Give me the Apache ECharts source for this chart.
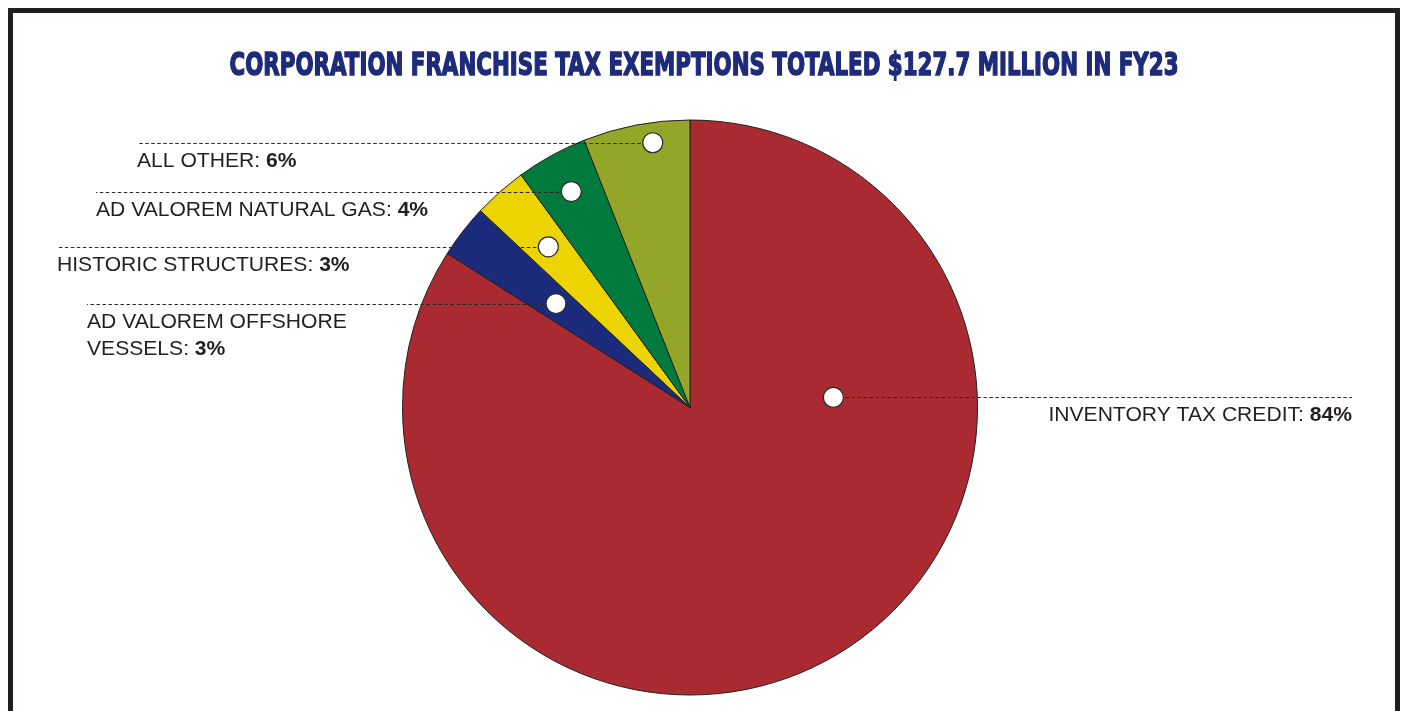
<!DOCTYPE html>
<html>
<head>
<meta charset="utf-8">
<title>Corporation Franchise Tax Exemptions FY23</title>
<script src="https://cdn.jsdelivr.net/npm/echarts@6/dist/echarts.min.js"></script>
<style>
  html, body { margin: 0; padding: 0; background: #ffffff; }
  #chart { width: 1401px; height: 711px; }
</style>
</head>
<body>
<div id="chart"></div>
<script>
// Exemption categories (clockwise from 12 o'clock) and their share of the total, in percent
const categories = [
  'INVENTORY TAX CREDIT',
  'AD VALOREM OFFSHORE VESSELS',
  'HISTORIC STRUCTURES',
  'AD VALOREM NATURAL GAS',
  'ALL OTHER'
];
const shares = [84, 3, 3, 4, 6];
// Text shown beside each slice (the name part may wrap)
const labelNames = [
  'INVENTORY TAX CREDIT: ',
  'AD VALOREM OFFSHORE\nVESSELS: ',
  'HISTORIC STRUCTURES: ',
  'AD VALOREM NATURAL GAS: ',
  'ALL OTHER: '
];
const titleText = 'CORPORATION FRANCHISE TAX EXEMPTIONS TOTALED $127.7 MILLION IN FY23';

// Styling
const sliceColors = ['#aa2a31', '#1c2a7b', '#ebd400', '#007b3d', '#94a628'];
const ink = '#231f20';
const navy = '#1d2b7a';
const pieCenter = [690, 407.5];
const pieRadius = 287.5;

// Callout layout: where the pointer dot sits inside each slice
// (radius fraction, optional angle in degrees clockwise from 12 o'clock;
// without an angle the slice's middle is used) and where its label goes.
const callouts = [
  { frac: 0.50, angle: 86,  side: 'right', end: 1352 },
  { frac: 0.59,             side: 'left',  end: 87 },
  { frac: 0.745,            side: 'left',  end: 57 },
  { frac: 0.857,            side: 'left',  end: 96 },
  { frac: 0.93, angle: 352, side: 'left',  end: 137 }
];

const chart = echarts.init(document.getElementById('chart'), null, { renderer: 'canvas' });

// Fit the condensed headline to its measured width
function titleScale(font, target) {
  const c = document.createElement('canvas').getContext('2d');
  c.font = font;
  return target / c.measureText(titleText).width;
}
const titleFont = 'bold 32px "DejaVu Sans", "Liberation Sans", sans-serif';
const tScale = titleScale(titleFont, 949);

// Slice angles from the values, matching the pie's clockwise layout from the top
const total = shares.reduce((a, b) => a + b, 0);
let acc = 0;
const sliceMid = shares.map(v => {
  const mid = (acc + v / 2) / total * 360;
  acc += v;
  return mid;
});

const graphics = [];

// Outer frame (open at the bottom)
graphics.push({
  type: 'rect', z: 10, silent: true,
  shape: { x: 10.5, y: 10.5, width: 1387, height: 800 },
  style: { fill: null, stroke: ink, lineWidth: 5 }
});

// Headline
graphics.push({
  type: 'text', z: 10, x: 704, y: 67, scaleX: tScale, scaleY: 1,
  style: {
    text: titleText, font: titleFont, fill: navy,
    stroke: navy, lineWidth: 1.6,
    align: 'center', verticalAlign: 'middle'
  }
});

callouts.forEach((c, i) => {
  const deg = c.angle != null ? c.angle : sliceMid[i];
  const rad = (deg - 90) * Math.PI / 180;
  const r = pieRadius * c.frac;
  const px = pieCenter[0] + r * Math.cos(rad);
  const py = pieCenter[1] + r * Math.sin(rad);
  const ly = Math.round(py) + 0.5;

  graphics.push({
    type: 'line', z: 20, silent: true,
    shape: { x1: px, y1: ly, x2: c.end, y2: ly },
    style: { stroke: '#2a2a2a', lineWidth: 1, lineDash: [3.5, 2.5] }
  });
  graphics.push({
    type: 'circle', z: 21, silent: true,
    shape: { cx: px, cy: py, r: 10 },
    style: { fill: '#ffffff', stroke: '#2a2a2a', lineWidth: 1.2 }
  });
  const pct = shares[i] + '%';
  graphics.push({
    type: 'text', z: 22, silent: true,
    x: c.end, y: ly + 4,
    style: {
      text: '{n|' + labelNames[i].replace('\n', '}\n{n|') + '}{b|' + pct + '}',
      align: c.side === 'right' ? 'right' : 'left',
      verticalAlign: 'top',
      rich: {
        n: { fontFamily: '"Liberation Sans", Arial, sans-serif', fontSize: 21.1, fill: ink, lineHeight: 27 },
        b: { fontFamily: '"Liberation Sans", Arial, sans-serif', fontSize: 21.1, fontWeight: 'bold', fill: ink, lineHeight: 27 }
      }
    }
  });
});

chart.setOption({
  backgroundColor: '#ffffff',
  animation: false,
  series: [{
    type: 'pie',
    center: pieCenter,
    radius: pieRadius,
    startAngle: 90,
    clockwise: true,
    label: { show: false },
    labelLine: { show: false },
    emphasis: { disabled: true },
    itemStyle: { borderColor: ink, borderWidth: 1 },
    data: categories.map((name, i) => ({
      name: name,
      value: shares[i],
      itemStyle: { color: sliceColors[i] }
    }))
  }],
  graphic: graphics
});
</script>
</body>
</html>
